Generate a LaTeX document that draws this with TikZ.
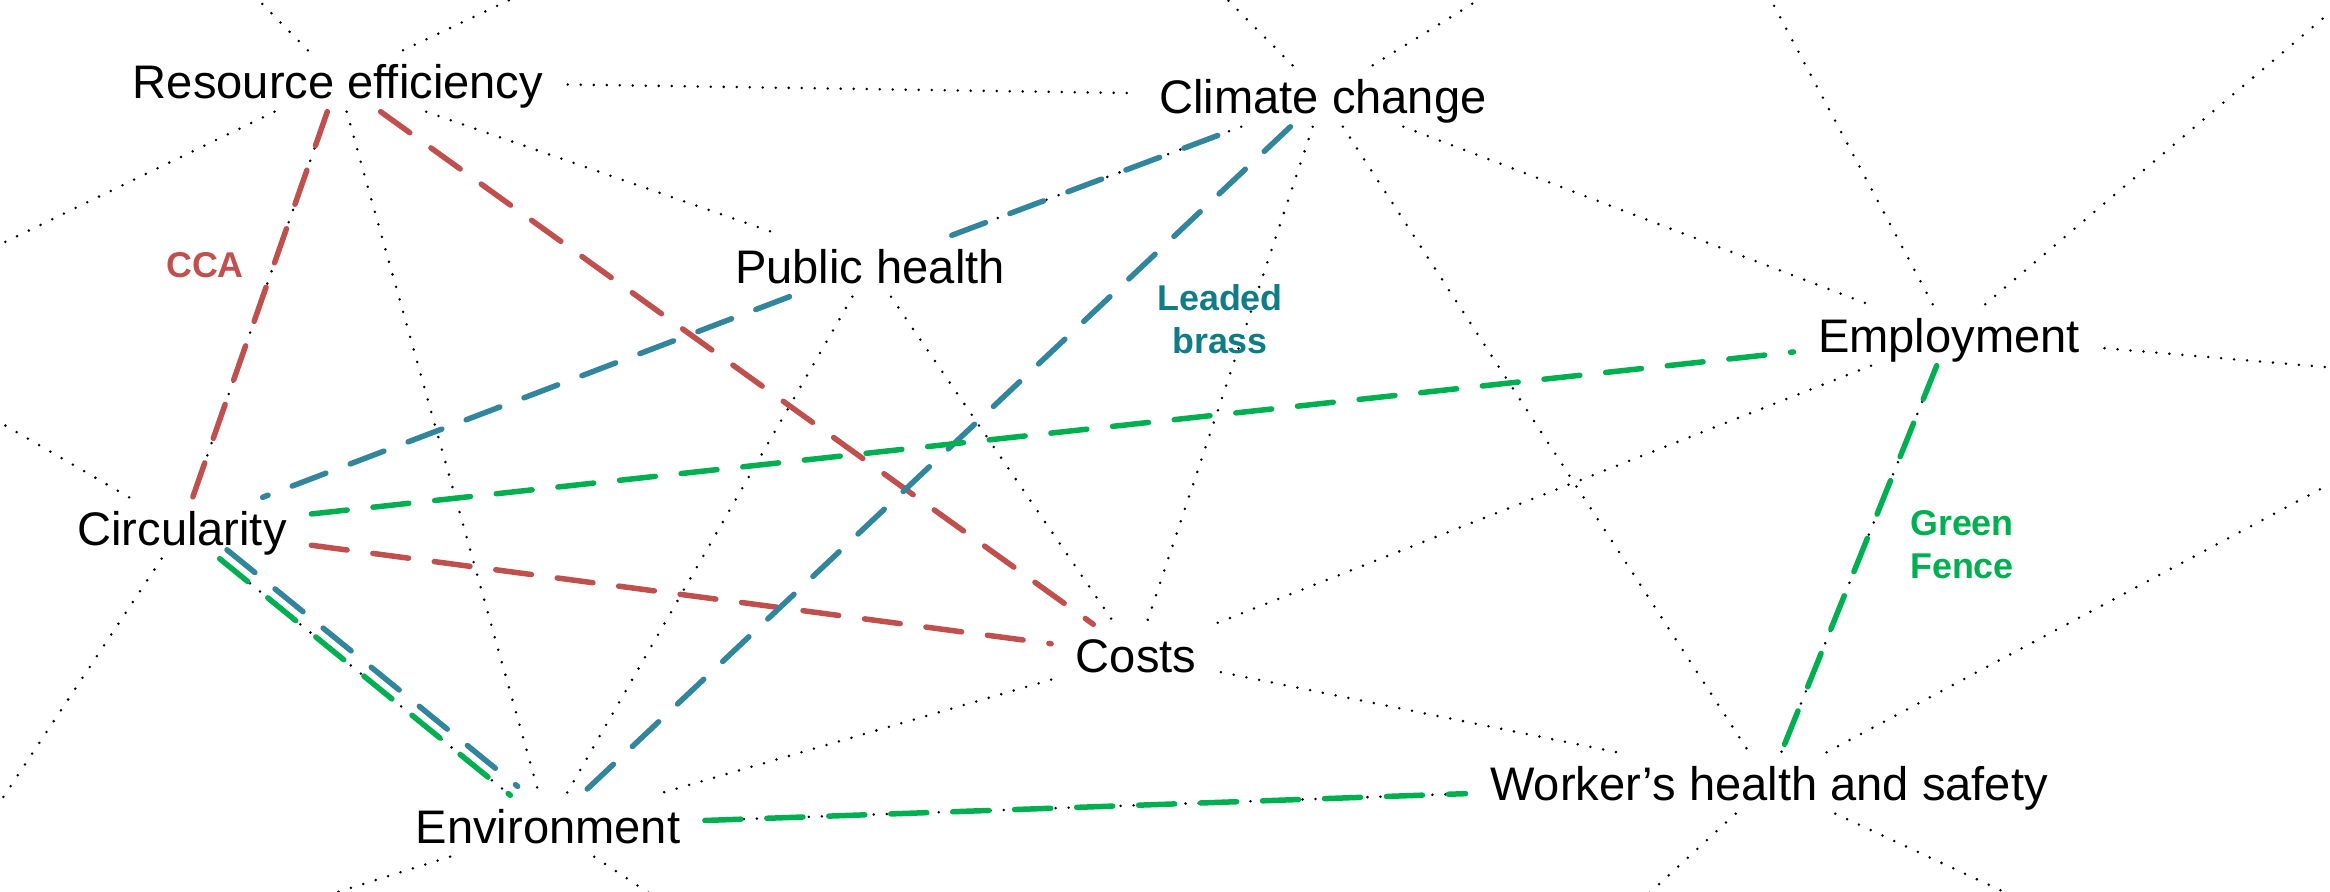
\documentclass[tikz,border=0pt]{standalone}
\usepackage{fontspec}
\setmainfont{Liberation Sans}
\definecolor{cred}{HTML}{C0504D}
\definecolor{cteal}{HTML}{31859C}
\definecolor{ctealtext}{HTML}{0F7C87}
\definecolor{cgreen}{HTML}{00B050}
\begin{document}
\begin{tikzpicture}[x=0.1mm,y=-0.1mm,
  topic/.style={font=\fontsize{13.4pt}{16pt}\selectfont, text height=4.7mm, text depth=1.3mm, inner ysep=0pt, inner xsep=2.4mm, anchor=base},
  lab/.style={font=\fontsize{10.2pt}{12pt}\selectfont\bfseries, anchor=base, inner sep=0pt},
  dotline/.style={line width=0.28mm, line cap=round, dash pattern=on 0pt off 1.3mm, black},
  dashline/.style={line width=0.55mm, line cap=round, dash pattern=on 3.6mm off 2.6mm}]
\useasboundingbox (0,0) rectangle (2330,891);
\clip (0,0) rectangle (2330,891);
% topics
\node[topic] (RE) at (338,98) {Resource efficiency};
\node[topic] (CC) at (1323,113) {Climate change};
\node[topic] (PH) at (870,283) {Public health};
\node[topic] (E) at (1949,352) {Employment};
\node[topic] (Ci) at (182,545) {Circularity};
\node[topic] (Co) at (1136,672) {Costs};
\node[topic] (En) at (548,843) {Environment};
\node[topic] (W) at (1769,800) {Worker’s health and safety};
% off-canvas ends
\coordinate (o1) at (229,-30);
\coordinate (o2) at (573,-30);
\coordinate (o3) at (-30,259);
\coordinate (o4) at (1198,-30);
\coordinate (o5) at (1527,-30);
\coordinate (o6) at (1755,-30);
\coordinate (o7) at (2360,-13);
\coordinate (o8) at (2360,370);
\coordinate (o9) at (-30,405);
\coordinate (o10) at (-79,921);
\coordinate (o11) at (245,921);
\coordinate (o12) at (691,921);
\coordinate (o13) at (2360,468);
\coordinate (o14) at (1619,921);
\coordinate (o15) at (2067,921);
% dotted links
\draw[dotline] (RE) -- (CC);
\draw[dotline] (RE) -- (PH);
\draw[dotline] (RE) -- (En);
\draw[dotline] (RE) -- (Ci);
\draw[dotline] (CC) -- (Co);
\draw[dotline] (CC) -- (W);
\draw[dotline] (CC) -- (E);
\draw[dotline] (CC) -- (PH);
\draw[dotline] (PH) -- (En);
\draw[dotline] (PH) -- (Co);
\draw[dotline] (E) -- (Co);
\draw[dotline] (E) -- (W);
\draw[dotline] (Co) -- (En);
\draw[dotline] (Co) -- (W);
\draw[dotline] (Ci) -- (En);
\draw[dotline] (En) -- (W);
\draw[dotline] (RE) -- (o1);
\draw[dotline] (RE) -- (o2);
\draw[dotline] (RE) -- (o3);
\draw[dotline] (CC) -- (o4);
\draw[dotline] (CC) -- (o5);
\draw[dotline] (E) -- (o6);
\draw[dotline] (E) -- (o7);
\draw[dotline] (E) -- (o8);
\draw[dotline] (Ci) -- (o9);
\draw[dotline] (Ci) -- (o10);
\draw[dotline] (En) -- (o11);
\draw[dotline] (En) -- (o12);
\draw[dotline] (W) -- (o13);
\draw[dotline] (W) -- (o14);
\draw[dotline] (W) -- (o15);
% coloured links
\draw[dashline, cred] (RE) -- (Ci);
\draw[dashline, cred] (RE) -- (Co);
\draw[dashline, cred] (Ci) -- (Co);
\draw[dashline, cteal] (PH) -- (CC);
\draw[dashline, cteal] (CC) -- (En);
\draw[dashline, cteal] (PH) -- (Ci);
\draw[dashline, cteal, transform canvas={xshift=0.73mm, yshift=0.89mm}] (Ci) -- (En);
\draw[dashline, cgreen] (Ci) -- (En);
\draw[dashline, cgreen] (Ci) -- (E);
\draw[dashline, cgreen] (E) -- (W);
\draw[dashline, cgreen] (En) -- (W);
% labels
\node[lab, text=cred] (cca) at (205,277) {CCA};
\node[lab, text=ctealtext] (lb1) at (1220,310) {Leaded};
\node[lab, text=ctealtext] (lb2) at (1220,353) {brass};
\node[lab, text=cgreen] (gf1) at (1962,535) {Green};
\node[lab, text=cgreen] (gf2) at (1962,578) {Fence};
\end{tikzpicture}
\end{document}
